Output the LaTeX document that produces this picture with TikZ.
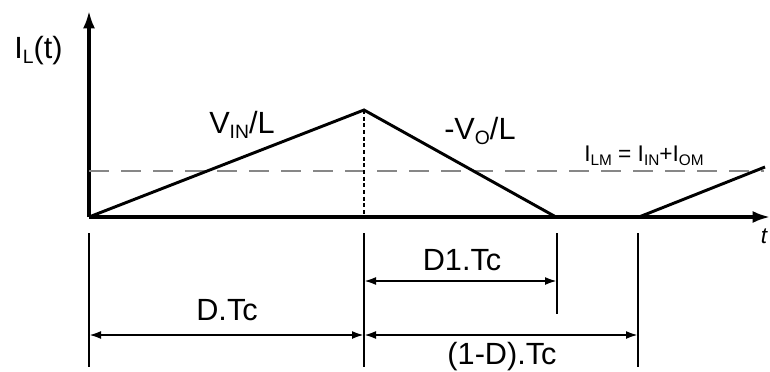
\documentclass[tikz,border=0pt]{standalone}
\usepackage{fontspec}
\setmainfont{Liberation Sans}
\usepackage{tikz}
\usetikzlibrary{arrows.meta}
\usetikzlibrary{positioning,calc}
\newcommand{\lsub}[1]{\raisebox{-0.35ex}{\fontsize{14.5}{14.5}\selectfont #1}}
\newcommand{\ssub}[1]{\raisebox{-0.35ex}{\fontsize{11.5}{11.5}\selectfont #1}}
\tikzset{
	>=latex,
	axis/.style = {line width=2.3pt, -{Latex[length=13pt,width=9pt]}},
	wave/.style = {line width=2.2pt, line join=miter},
	meanline/.style = {line width=2.2pt, draw=black!47, dash pattern=on 15pt off 9pt},
	tick/.style = {line width=1.1pt},
	dim/.style = {line width=1.6pt, {Latex[length=9pt,width=6pt]}-{Latex[length=9pt,width=6pt]}},
	lbl/.style = {anchor=base, inner sep=0pt, font=\fontsize{23}{27}\selectfont},
}

\begin{document}
\begin{tikzpicture}[x=0.75pt,y=-0.75pt]
	\useasboundingbox (0,0) rectangle (770,371);

	% axes
	\coordinate (O) at (89,217);
	\coordinate (Ytop) at (89,11);
	\coordinate (Xend) at (770,217);
	\draw[axis] (O) -- (Ytop);
	\draw[axis] (O) -- (Xend);
	\node[lbl, anchor=base west] (ylab) at (14,58) {I\lsub{L}(t)};
	\node[anchor=base, inner sep=0pt, font=\fontsize{17}{17}\selectfont\itshape] (tlab) at (764,243) {t};

	% inductor current
	\coordinate (P) at (364,110);
	\coordinate (Z1) at (556,217);
	\coordinate (Z2) at (639,217);
	\coordinate (E) at (765,167);
	\coordinate (M0) at (89,171);
	\coordinate (M1) at (764,171);
	\draw[meanline] (M0) -- (M1);
	\draw[wave] (O) -- (P) -- (Z1) -- (Z2) -- (E);
	\draw[tick, line width=1.5pt, dash pattern=on 3pt off 2pt] (P) -- (P|-O);

	\node[lbl, anchor=base west] (vin) at (209,133) {V\lsub{IN}/L};
	\node[lbl, anchor=base west] (vo) at (444,139) {-V\lsub{O}/L};
	\node[anchor=base west, inner sep=0pt, font=\fontsize{17}{18}\selectfont] (ilm) at (584,161)
	{I\ssub{LM} = I\ssub{IN}+I\ssub{OM}};

	% time intervals
	\foreach \x/\b/\n in {89/367/t0, 364/367/t1, 557/314/t2, 638/367/t3} {
		\coordinate (\n a) at (\x,233);
		\coordinate (\n b) at (\x,\b);
		\draw[tick] (\n a) -- (\n b);
	}
	\draw[dim] (t1a |- 0,281) -- (t2a |- 0,281);
	\draw[dim] (t0a |- 0,335) -- (t1a |- 0,335);
	\draw[dim] (t1a |- 0,335) -- (t3a |- 0,335);
	\node[lbl] (d1lab) at (462,270) {D1.Tc};
	\node[lbl] (d0lab) at (227,320) {D.Tc};
	\node[lbl] (d2lab) at (502,364) {(1-D).Tc};
\end{tikzpicture}
\end{document}
